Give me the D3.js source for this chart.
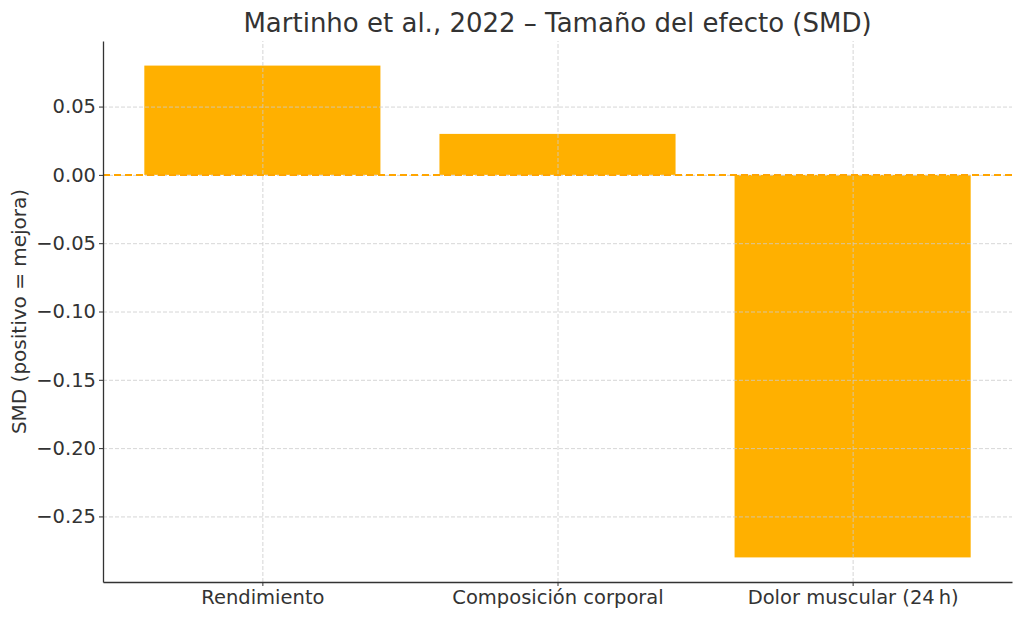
<!DOCTYPE html>
<html>
<head>
<meta charset="utf-8">
<script src="https://cdn.jsdelivr.net/npm/d3@7"></script>
<style>
  body { margin: 0; background: #fff; }
  svg text { font-family: "DejaVu Sans", sans-serif; fill: #333; }
  .grid line { stroke: #ccc; stroke-dasharray: 4,2; stroke-width: 0.8; }
</style>
</head>
<body>
<svg id="chart" width="1024" height="620"></svg>
<script>
var categories = ["Rendimiento", "Composición corporal", "Dolor muscular (24\u2009h)"];
var smd = [0.08, 0.03, -0.28];
var yTicks = [0.05, 0.00, -0.05, -0.10, -0.15, -0.20, -0.25];

var svg = d3.select("#chart"),
  margin = {top: 41, right: 12, bottom: 38, left: 103},
  width = 1024 - margin.left - margin.right,
  height = 620 - margin.top - margin.bottom,
  g = svg.append("g").attr("transform", "translate(" + margin.left + "," + margin.top + ")");

// matplotlib-like limits: bars +-0.4, 5% padding
var x = d3.scaleLinear().domain([-0.54, categories.length - 1 + 0.54]).range([0, width]);
var ymin = d3.min(smd), ymax = d3.max(smd), pad = (ymax - ymin) * 0.05;
var y = d3.scaleLinear().domain([ymin - pad, ymax + pad]).range([height, 0]);

g.selectAll("rect.bar")
  .data(smd)
  .enter().append("rect")
  .attr("class", "bar")
  .attr("x", function(d, i) { return x(i - 0.4); })
  .attr("width", function() { return x(0.4) - x(-0.4); })
  .attr("y", function(d) { return y(Math.max(0, d)); })
  .attr("height", function(d) { return Math.abs(y(d) - y(0)); })
  .attr("fill", "#ffb000");

// grid on top
g.append("g")
  .attr("class", "grid")
  .call(d3.axisLeft(y).tickValues(yTicks).tickSize(-width).tickFormat(""))
  .select(".domain").remove();

g.append("g")
  .attr("class", "grid")
  .attr("transform", "translate(0," + height + ")")
  .call(d3.axisBottom(x).tickValues(d3.range(categories.length)).tickSize(-height).tickFormat(""))
  .select(".domain").remove();

// zero line
g.append("line")
  .attr("x1", 0).attr("x2", width)
  .attr("y1", y(0)).attr("y2", y(0))
  .attr("stroke", "#ffa500")
  .attr("stroke-width", 2)
  .attr("stroke-dasharray", "7,4");

var fmt = function(d) { return (d < 0 ? "\u2212" : "") + Math.abs(d).toFixed(2); };

var yAxis = g.append("g")
  .call(d3.axisLeft(y).tickValues(yTicks).tickSize(4).tickSizeOuter(0).tickPadding(3).tickFormat(fmt));
yAxis.selectAll("text").style("font-size", "19.5px").attr("fill", "#333");

var xAxis = g.append("g")
  .attr("transform", "translate(0," + height + ")")
  .call(d3.axisBottom(x).tickValues(d3.range(categories.length)).tickSize(4).tickSizeOuter(0).tickPadding(4)
    .tickFormat(function(i) { return categories[i]; }));
xAxis.selectAll("text").style("font-size", "19.5px").attr("fill", "#333");

[yAxis, xAxis].forEach(function(a) {
  a.select(".domain").attr("stroke", "#333").attr("stroke-width", 1.3);
  a.selectAll(".tick line").attr("stroke", "#333");
});

svg.append("text")
  .attr("x", margin.left + width / 2)
  .attr("y", 32)
  .attr("text-anchor", "middle")
  .style("font-size", "26px")
  .text("Martinho et al., 2022 \u2013 Tamaño del efecto (SMD)");

svg.append("text")
  .attr("transform", "translate(26," + (margin.top + height / 2) + ") rotate(-90)")
  .attr("text-anchor", "middle")
  .style("font-size", "20px")
  .text("SMD (positivo = mejora)");
</script>
</body>
</html>
